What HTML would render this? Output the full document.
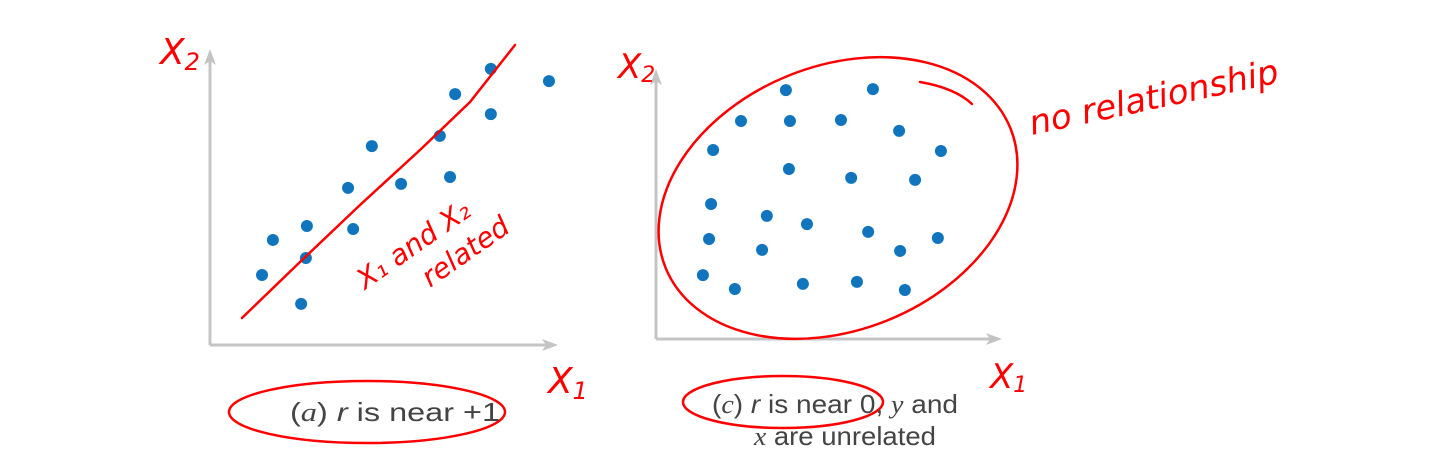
<!DOCTYPE html>
<html><head><meta charset="utf-8"><style>
body{margin:0;background:#fff;width:1452px;height:456px;overflow:hidden}
svg{display:block}
.cap{font-family:"Liberation Sans",sans-serif;font-size:26px;fill:#444}
.hw{font-family:"DejaVu Sans",sans-serif;fill:#f00;font-style:italic}
</style></head><body>
<svg id="chart" width="1452" height="456" viewBox="0 0 1452 456">
<g id="left"></g>
<g id="right"></g>
<g fill="none" stroke="#f00" stroke-width="2.5" stroke-linecap="round">
<path d="M242,318 L300,262 L360,205 L420,150 L470,102 L515,45"/>
<ellipse cx="367" cy="412" rx="138" ry="31"/>
<ellipse cx="838" cy="198" rx="186" ry="132" transform="rotate(-22 838 198)"/>
<path d="M920,82 Q955,88 972,104"/>
<ellipse cx="783" cy="402" rx="100" ry="26"/>
</g>
<g>
<text class="hw" x="160" y="64" font-size="36">X<tspan font-size="24" dy="6">2</tspan></text>
<text class="hw" x="548" y="393" font-size="36">X<tspan font-size="24" dy="6">1</tspan></text>
<text class="hw" x="618" y="78" font-size="34">X<tspan font-size="22" dy="4">2</tspan></text>
<text class="hw" x="990" y="388" font-size="34">X<tspan font-size="22" dy="4">1</tspan></text>
<text class="hw" x="365" y="290" font-size="28" transform="rotate(-35 365 290)">X₁ and X₂</text>
<text class="hw" x="430" y="288" font-size="28" transform="rotate(-35 430 288)">related</text>
<text class="hw" x="1032" y="135" font-size="34" transform="rotate(-12 1032 135)">no relationship</text>
</g>
<text class="cap" x="290" y="421" textLength="210" lengthAdjust="spacingAndGlyphs">(<tspan font-family="Liberation Serif" font-style="italic">a</tspan>) <tspan font-style="italic">r</tspan> is near +1</text>
<text class="cap" x="712" y="413" textLength="246" lengthAdjust="spacingAndGlyphs">(<tspan font-family="Liberation Serif" font-style="italic">c</tspan>) <tspan font-style="italic">r</tspan> is near 0, <tspan font-family="Liberation Serif" font-style="italic">y</tspan> and</text>
<text class="cap" x="754" y="445" textLength="182" lengthAdjust="spacingAndGlyphs"><tspan font-family="Liberation Serif" font-style="italic">x</tspan> are unrelated</text>
</svg>
<script>
const aX=[15.3,18.5,26.8,28.2,28.5,40.6,42.1,47.6,56.2,67.6,70.6,72.1,82.6,82.6,99.7];
const aY=[20.6,30.9,12.1,25.6,35,46.2,34.1,58.5,47.4,61.5,49.4,73.8,81.2,67.9,77.6];
const cX=[38.2,63.8,25,39.4,54.4,71.5,16.8,83.8,39.1,57.4,76.2,16.2,32.6,44.4,62.4,15.6,31.2,71.8,82.9,13.8,23.2,43.2,59.1,73.2];
const cY=[73.2,73.5,64.1,64.1,64.4,61.2,55.6,55.3,50,47.4,46.8,39.7,36.2,33.8,31.5,29.4,26.2,25.9,29.7,18.8,14.7,16.2,16.8,14.4];
const NS='http://www.w3.org/2000/svg';
function panel(g,ox,oy,xlen,ylen,xs,ys,pfx){
  const mk=(t,a)=>{const e=document.createElementNS(NS,t);for(const k in a)e.setAttribute(k,a[k]);g.appendChild(e);return e;};
  const sx=v=>ox+v*3.4, sy=v=>oy-v*3.4;
  let ax=mk('line',{x1:ox,y1:oy,x2:ox+xlen,y2:oy,stroke:'#c4c4c4','stroke-width':3});
  
  
  let ay=mk('line',{x1:ox,y1:oy,x2:ox,y2:oy-ylen,stroke:'#c4c4c4','stroke-width':3});
  
  
  let h1=mk('path',{d:`M${ox+xlen+8},${oy} l-16,-6 l4,6 l-4,6z`,fill:'#c4c4c4'});
  
  
  let h2=mk('path',{d:`M${ox},${oy-ylen-8} l-6,16 l6,-4 l6,4z`,fill:'#c4c4c4'});
  
  
  xs.forEach((v,i)=>{
    const c=mk('circle',{cx:sx(v),cy:sy(ys[i]),r:6,fill:'#1075bd'});
    
    
  });
}
panel(document.getElementById('left'),210,345,340,288,aX,aY,'a');
panel(document.getElementById('right'),656,339,338,262,cX,cY,'c');
</script>
</body></html>
